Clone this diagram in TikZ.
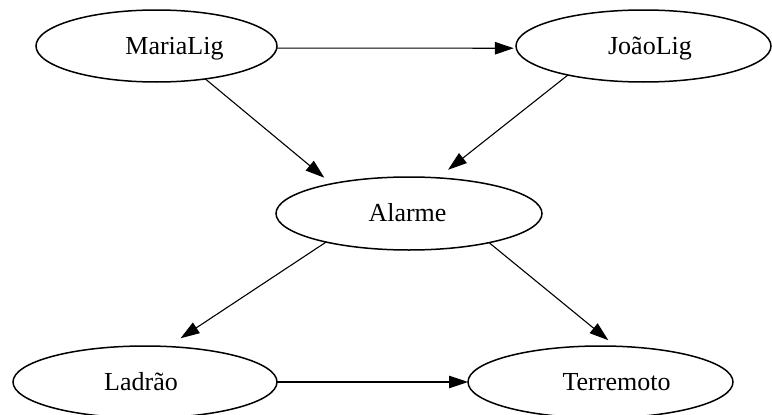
\documentclass[tikz,border=0pt]{standalone}
\usepackage{fontspec}
\setmainfont{Liberation Serif}
\usetikzlibrary{arrows.meta,shapes.geometric}
\begin{document}
\begin{tikzpicture}[x=1pt,y=-1pt,
  ell/.style={draw=black,line width=1.5pt,ellipse,inner sep=0pt,outer sep=0pt,minimum height=72pt},
  lbl/.style={anchor=base,inner sep=0pt,font=\fontsize{26}{30}\selectfont},
  arr/.style={line width=1.1pt,-{Triangle[length=19pt,width=12.5pt]}}]
\useasboundingbox (0,0) rectangle (772,415);
\fill[white] (0,0) rectangle (772,415);
% ellipses
\node[ell,minimum width=241pt] (mar) at (156.5,46) {};
\node[ell,minimum width=255pt] (joa) at (643.5,46) {};
\node[ell,minimum width=266pt,minimum height=73pt] (ala) at (409,213.5) {};
\node[ell,minimum width=264pt] (lad) at (145,382) {};
\node[ell,minimum width=265pt] (ter) at (600.5,382) {};
% labels
\node[lbl] (marT) at (174.5,54) {MariaLig};
\node[lbl] (joaT) at (650,54) {JoãoLig};
\node[lbl] (alaT) at (407.5,221.5) {Alarme};
\node[lbl] (ladT) at (141,390.5) {Ladrão};
\node[lbl] (terT) at (616.5,390) {Terremoto};
% edges
\draw[arr,shorten >=2.5pt] (mar.-1.9) -- (joa.181.8);
\draw[arr,shorten >=9.5pt] (mar.-34.8) -- (ala.159.4);
\draw[arr,shorten >=13pt] (joa.-159) -- (ala.51);
\draw[arr,shorten >=15pt] (ala.-161.7) -- (lad.57);
\draw[arr,shorten >=9.5pt] (ala.-20.5) -- (ter.67.2);
\draw[arr] (lad.-0.9) -- (ter.180.9);
\end{tikzpicture}
\end{document}
